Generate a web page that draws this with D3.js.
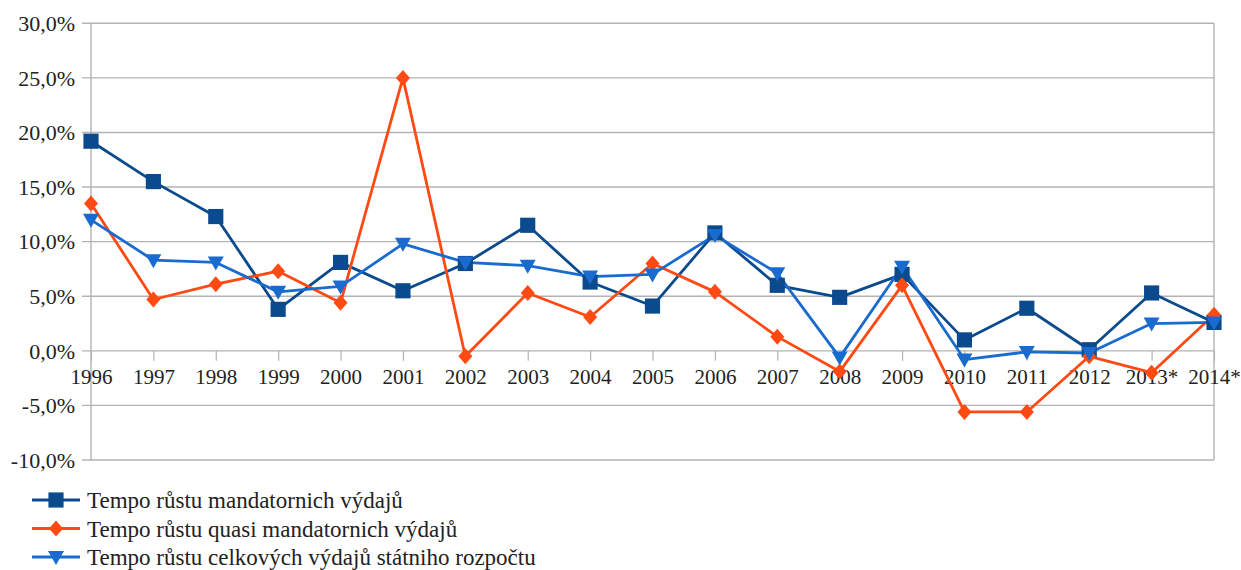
<!DOCTYPE html>
<html>
<head>
<meta charset="utf-8">
<script src="https://cdn.jsdelivr.net/npm/d3@7"></script>
<style>
  html, body { margin: 0; padding: 0; background: #fff; }
  svg { display: block; }
</style>
</head>
<body>
<svg id="chart" width="1241" height="570"></svg>
<script>
const categories = ["1996","1997","1998","1999","2000","2001","2002","2003","2004","2005","2006","2007","2008","2009","2010","2011","2012","2013*","2014*"];
const mandatory = [19.2, 15.5, 12.3, 3.8, 8.1, 5.5, 8.0, 11.5, 6.3, 4.1, 10.8, 6.0, 4.9, 7.0, 1.0, 3.9, 0.1, 5.3, 2.6];
const quasiMandatory = [13.5, 4.7, 6.1, 7.3, 4.4, 25.0, -0.5, 5.3, 3.1, 8.0, 5.4, 1.3, -1.9, 6.0, -5.6, -5.6, -0.5, -2.0, 3.3];
const totalBudget = [12.0, 8.3, 8.1, 5.4, 5.9, 9.8, 8.1, 7.8, 6.8, 7.0, 10.6, 7.1, -0.6, 7.7, -0.8, -0.1, -0.2, 2.5, 2.6];
const yTicks = [-10, -5, 0, 5, 10, 15, 20, 25, 30];
const seriesNames = [
  "Tempo růstu mandatornich výdajů",
  "Tempo růstu quasi mandatornich výdajů",
  "Tempo růstu celkových výdajů státniho rozpočtu"
];

const FONT = "'Liberation Serif', 'DejaVu Serif', 'Times New Roman', serif";
const TEXT_COLOR = "#222";

const series = [
  { name: seriesNames[0], values: mandatory, color: "#0b4a8c", marker: "square" },
  { name: seriesNames[1], values: quasiMandatory, color: "#ff4a14", marker: "diamond" },
  { name: seriesNames[2], values: totalBudget, color: "#1a6bd0", marker: "triangleDown" }
];

const svg = d3.select("#chart");
const plot = { left: 91, right: 1214, top: 23.3, bottom: 460 };

const x = d3.scalePoint().domain(categories).range([plot.left, plot.right]).padding(0);
const y = d3.scaleLinear().domain([-10, 30]).range([plot.bottom, plot.top]);

const gridColor = "#b3b3b3";

// horizontal gridlines
svg.append("g")
  .selectAll("line")
  .data(yTicks)
  .join("line")
  .attr("x1", plot.left - 9)
  .attr("x2", plot.right)
  .attr("y1", d => y(d))
  .attr("y2", d => y(d))
  .attr("stroke", gridColor)
  .attr("stroke-width", 1.4);

// frame
svg.append("line").attr("x1", plot.left).attr("x2", plot.left).attr("y1", plot.top).attr("y2", plot.bottom)
  .attr("stroke", gridColor).attr("stroke-width", 1.4);
svg.append("line").attr("x1", plot.right).attr("x2", plot.right).attr("y1", plot.top).attr("y2", plot.bottom)
  .attr("stroke", gridColor).attr("stroke-width", 1.4);

// y axis labels
const fmt = d => d.toFixed(1).replace(".", ",") + "%";
svg.append("g")
  .selectAll("text")
  .data(yTicks)
  .join("text")
  .attr("x", 75)
  .attr("y", d => y(d))
  .attr("dy", "0.35em")
  .attr("text-anchor", "end")
  .style("font-family", FONT)
  .style("font-size", "22px")
  .style("fill", TEXT_COLOR)
  .text(fmt);

// x axis at 0 with ticks
const xAxis = d3.axisBottom(x).tickSize(10).tickPadding(8).tickFormat(d => d);
const gx = svg.append("g").attr("transform", `translate(0,${y(0)})`).call(xAxis);
gx.attr("font-family", null).attr("font-size", null);
gx.select(".domain").remove();
gx.selectAll(".tick line").attr("stroke", gridColor).attr("stroke-width", 1.2);
gx.selectAll(".tick text")
  .style("font-family", FONT)
  .style("font-size", "21px")
  .style("fill", TEXT_COLOR);

// markers
function markerPath(type) {
  if (type === "square") return d3.symbol(d3.symbolSquare, 230)();
  if (type === "diamond") return "M0,-8L7,0L0,8L-7,0Z";
  return "M-8,-6L8,-6L0,8Z";
}

const line = d3.line().x((d, i) => x(categories[i])).y(d => y(d));

series.forEach(s => {
  svg.append("path")
    .datum(s.values)
    .attr("fill", "none")
    .attr("stroke", s.color)
    .attr("stroke-width", 2.8)
    .attr("stroke-linejoin", "round")
    .attr("d", line);
});

series.forEach(s => {
  svg.append("g")
    .selectAll("path")
    .data(s.values)
    .join("path")
    .attr("transform", (d, i) => `translate(${x(categories[i])},${y(d)})`)
    .attr("d", markerPath(s.marker))
    .attr("fill", s.color);
});

// legend
const legend = svg.append("g");
series.forEach((s, i) => {
  const cy = 500 + i * 28.5;
  legend.append("line")
    .attr("x1", 32).attr("x2", 80)
    .attr("y1", cy).attr("y2", cy)
    .attr("stroke", s.color).attr("stroke-width", 2.8);
  legend.append("path")
    .attr("transform", `translate(56,${cy})`)
    .attr("d", markerPath(s.marker))
    .attr("fill", s.color);
  legend.append("text")
    .attr("x", 87)
    .attr("y", cy)
    .attr("dy", "0.35em")
    .style("font-family", FONT)
    .style("font-size", "23px")
    .style("fill", TEXT_COLOR)
    .text(s.name);
});
</script>
</body>
</html>
